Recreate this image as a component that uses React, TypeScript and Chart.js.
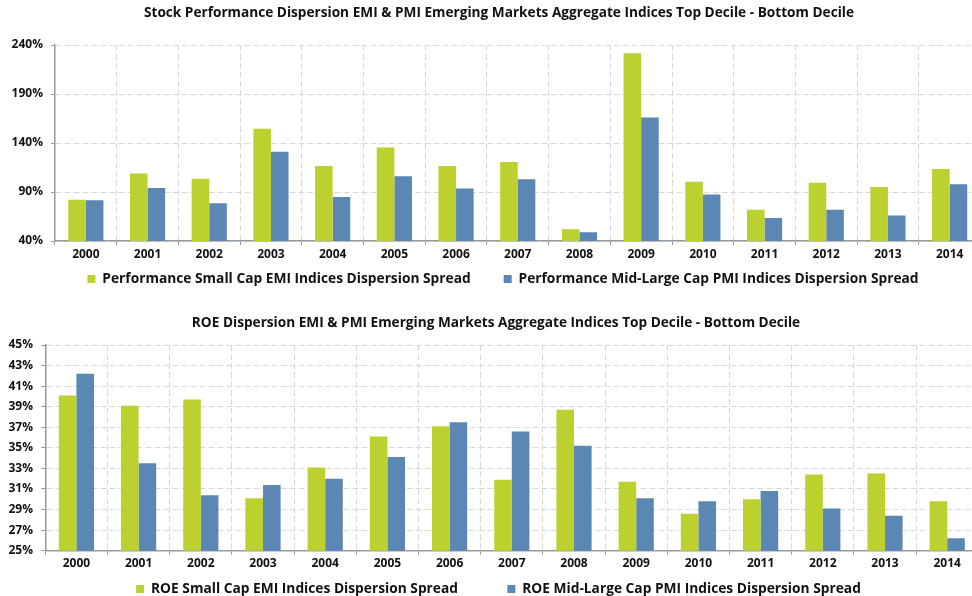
import React, { useEffect, useRef } from "react";
import { Chart, registerables } from "chart.js";

Chart.register(...registerables);

const years = ["2000", "2001", "2002", "2003", "2004", "2005", "2006", "2007", "2008", "2009", "2010", "2011", "2012", "2013", "2014"];

const perfSmallCap = [82, 109, 103.5, 154.5, 116.5, 135.5, 116.5, 120.5, 52, 231.5, 100.5, 72, 99.5, 95, 113.5];
const perfMidLargeCap = [81.5, 94, 78.5, 131, 85, 106, 93.5, 103, 49, 166, 87.5, 63.5, 72, 66, 98];

const roeSmallCap = [40.1, 39.1, 39.7, 30.1, 33.1, 36.1, 37.1, 31.9, 38.7, 31.7, 28.6, 30.0, 32.4, 32.5, 29.8];
const roeMidLargeCap = [42.2, 33.5, 30.4, 31.4, 32.0, 34.1, 37.5, 36.6, 35.2, 30.1, 29.8, 30.8, 29.1, 28.4, 26.2];

const perfTitle = "Stock Performance Dispersion EMI & PMI Emerging Markets Aggregate Indices Top Decile - Bottom Decile";
const perfLabels = ["Performance Small Cap EMI Indices Dispersion Spread", "Performance Mid-Large Cap PMI Indices Dispersion Spread"];
const roeTitle = "ROE Dispersion EMI & PMI Emerging Markets Aggregate Indices Top Decile - Bottom Decile";
const roeLabels = ["ROE Small Cap EMI Indices Dispersion Spread", "ROE Mid-Large Cap PMI Indices Dispersion Spread"];

const GREEN = "#bcd030";
const BLUE = "#5b87b4";
const FONT = "'Open Sans', sans-serif";
const LEGEND_FS = 13.75;
const TITLE_FS = 13.65;

type Props = {
  title: string;
  labels: string[];
  a: number[];
  b: number[];
  min: number;
  max: number;
  step: number;
  height: number;
  padRight: number;
  yAxisWidth: number;
  tickPad: number;
  catPct: number;
  titlePadTop: number;
  titlePadBottom: number;
  titleCenter: number;
  legendPad: number;
  legendHeight: number;
  legendCenter: number;
  legendMid: number;
};

function BarPanel(p: Props) {
  const ref = useRef<HTMLCanvasElement | null>(null);
  useEffect(() => {
    if (!ref.current) return;
    const place = {
      id: "place",
      afterLayout(chart: any) {
        const l = chart.legend;
        if (l) {
          const dx = p.legendMid - (l.left + l.right) / 2;
          l.left += dx;
          l.right += dx;
          l.top = p.legendCenter - p.legendPad - LEGEND_FS / 2;
          l.bottom = chart.height;
        }
        const t = chart.titleBlock;
        if (t) {
          const dx = p.titleCenter - (t.left + t.right) / 2;
          t.left += dx;
          t.right += dx;
        }
      },
    };
    const chart = new Chart(ref.current, {
      type: "bar",
      data: {
        labels: years,
        datasets: [
          { label: p.labels[0], data: p.a, backgroundColor: GREEN, barPercentage: 1, categoryPercentage: p.catPct },
          { label: p.labels[1], data: p.b, backgroundColor: BLUE, barPercentage: 1, categoryPercentage: p.catPct },
        ],
      },
      plugins: [place],
      options: {
        responsive: false,
        animation: false,
        devicePixelRatio: 1,
        layout: { padding: { left: 0, right: p.padRight, top: 0, bottom: 0 } },
        plugins: {
          title: {
            display: true,
            text: p.title,
            color: "#111",
            font: { family: FONT, size: TITLE_FS, weight: "bold" },
            padding: { top: p.titlePadTop, bottom: p.titlePadBottom },
          },
          legend: {
            position: "bottom",
            maxHeight: p.legendHeight,
            labels: {
              boxWidth: 8,
              boxHeight: 8,
              color: "#111",
              padding: p.legendPad,
              font: { family: FONT, size: LEGEND_FS, weight: "bold" },
            },
          },
          tooltip: { enabled: false },
        },
        scales: {
          x: {
            grid: {
              offset: true,
              color: "#d9d9d9",
              tickLength: 4,
              tickColor: "#9a9a9a",
              drawTicks: true,
            },
            border: { color: "#9a9a9a", width: 1.5, dash: [6, 3] },
            ticks: { color: "#111", padding: 2, font: { family: FONT, size: 12, weight: "bold" } },
          },
          y: {
            min: p.min,
            max: p.max,
            grid: { color: "#d9d9d9", tickLength: 4, tickColor: "#9a9a9a" },
            border: { color: "#9a9a9a", width: 1.5, dash: [6, 3] },
            afterFit: (s: any) => { s.width = p.yAxisWidth; },
            ticks: {
              stepSize: p.step,
              color: "#111",
              padding: p.tickPad,
              font: { family: FONT, size: 12, weight: "bold" },
              callback: (v: any) => v + "%",
            },
          },
        },
      },
    });
    return () => chart.destroy();
  }, []);
  return <canvas ref={ref} width={1000} height={p.height} style={{ display: "block" }} />;
}

export default function App() {
  return (
    <div style={{ position: "fixed", left: 0, top: 0, width: 972, height: 596, overflow: "hidden", background: "#fff" }}>
      <div style={{ position: "absolute", left: 0, top: 0 }}>
        <BarPanel title={perfTitle} labels={perfLabels} a={perfSmallCap} b={perfMidLargeCap} min={40} max={240} step={50}
          height={298} padRight={19.5} yAxisWidth={55} tickPad={8} catPct={0.57}
          titlePadTop={4.81} titlePadBottom={23.81} titleCenter={499}
          legendPad={33} legendHeight={34.6} legendCenter={279} legendMid={503} />
      </div>
      <div style={{ position: "absolute", left: 0, top: 298 }}>
        <BarPanel title={roeTitle} labels={roeLabels} a={roeSmallCap} b={roeMidLargeCap} min={25} max={45} step={2}
          height={310} padRight={21.7} yAxisWidth={45.3} tickPad={8.3} catPct={0.566}
          titlePadTop={16.81} titlePadBottom={13.81} titleCenter={496}
          legendPad={49.4} legendHeight={34.9} legendCenter={291} legendMid={498.5} />
      </div>
    </div>
  );
}
